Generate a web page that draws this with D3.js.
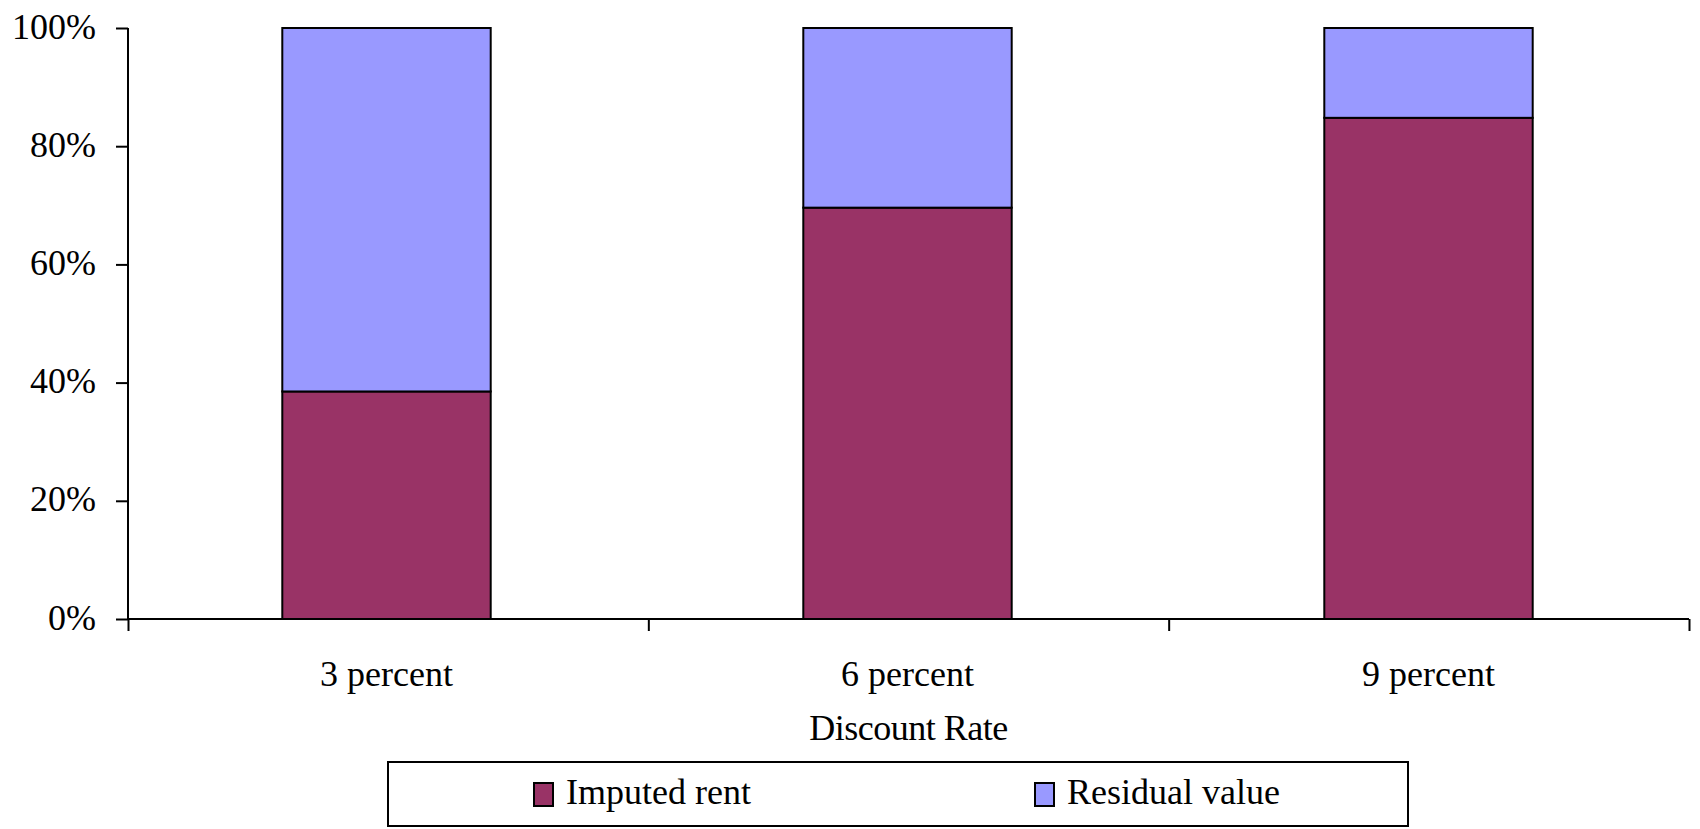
<!DOCTYPE html>
<html>
<head>
<meta charset="utf-8">
<script src="https://cdn.jsdelivr.net/npm/d3@7"></script>
<style>
  body { margin: 0; background: #fff; }
  svg { display: block; font-family: "Liberation Serif", "Times New Roman", serif; }
</style>
</head>
<body>
<svg></svg>
<script>
let categories = ["3 percent", "6 percent", "9 percent"];
let imputedRent = [38.5, 69.6, 84.8];
let residualValue = [61.5, 30.4, 15.2];
let seriesNames = ["Imputed rent", "Residual value"];
let yTicks = [0, 20, 40, 60, 80, 100];

drawChart();

function drawChart() {
    let svgWidth = 1700, svgHeight = 829;
    let left = 128, right = 1689, top = 28, bottom = 619;
    let colors = ["#993366", "#9999FF"];

    let svg = d3.select("svg")
        .attr("width", svgWidth)
        .attr("height", svgHeight);

    let x = d3.scaleBand()
        .domain(categories)
        .range([left - 2, right])
        .paddingInner(0.6)
        .paddingOuter(0.3);

    let y = d3.scaleLinear()
        .domain([0, 100])
        .range([bottom, top]);

    // stack the two series
    let rows = categories.map(function (c, i) {
        return { cat: c, "Imputed rent": imputedRent[i], "Residual value": residualValue[i] };
    });
    let stacked = d3.stack().keys(seriesNames)(rows);

    let layers = svg.append("g")
        .selectAll("g")
        .data(stacked)
        .enter().append("g")
        .attr("fill", function (d, i) { return colors[i] });

    layers.selectAll("rect")
        .data(function (d) { return d })
        .enter().append("rect")
        .attr("x", function (d) { return x(d.data.cat) })
        .attr("y", function (d) { return y(d[1]) })
        .attr("width", x.bandwidth())
        .attr("height", function (d) { return y(d[0]) - y(d[1]) })
        .attr("stroke", "#000")
        .attr("stroke-width", 2);

    // y axis
    let yAxis = svg.append("g")
        .attr("transform", "translate(" + left + ",0)")
        .call(d3.axisLeft(y).tickValues(yTicks).tickSize(12).tickPadding(20)
            .tickFormat(function (d) { return d + "%" }));
    yAxis.select(".domain").attr("stroke-width", 2).attr("d", "M0," + top + "V" + bottom);
    yAxis.selectAll(".tick line").attr("stroke-width", 2);
    yAxis.selectAll(".tick text")
        .attr("font-size", 36)
        .attr("font-family", "Liberation Serif")
        .attr("fill", "#000")
        .attr("dy", "0.28em");

    // x axis with ticks between categories
    let xb = d3.scaleLinear().domain([0, categories.length]).range([left, right]);
    let xAxis = svg.append("g")
        .attr("transform", "translate(0," + bottom + ")")
        .call(d3.axisBottom(xb).tickValues(d3.range(categories.length + 1)).tickSize(12)
            .tickFormat(""));
    xAxis.select(".domain").attr("stroke-width", 2).attr("d", "M" + left + ",0H" + right);
    xAxis.selectAll(".tick line").attr("stroke-width", 2);

    // category labels
    let xLabels = svg.append("g")
        .attr("transform", "translate(0," + bottom + ")")
        .call(d3.axisBottom(x).tickSize(0).tickPadding(0));
    xLabels.select(".domain").remove();
    xLabels.selectAll(".tick text")
        .attr("font-size", 36)
        .attr("font-family", "Liberation Serif")
        .attr("fill", "#000")
        .attr("y", 67)
        .attr("dy", 0);

    svg.append("text")
        .attr("x", (left + right) / 2)
        .attr("y", 740)
        .attr("text-anchor", "middle")
        .attr("font-size", 36)
        .attr("letter-spacing", -0.5)
        .text("Discount Rate");

    // legend
    let legend = svg.append("g");
    legend.append("rect")
        .attr("x", 388).attr("y", 762)
        .attr("width", 1020).attr("height", 64)
        .attr("fill", "#fff")
        .attr("stroke", "#000")
        .attr("stroke-width", 2);

    let legendX = [534, 1035];
    let items = legend.selectAll(".item")
        .data(seriesNames)
        .enter().append("g")
        .attr("class", "item")
        .attr("transform", function (d, i) { return "translate(" + legendX[i] + ",783)" });
    items.append("rect")
        .attr("width", 19).attr("height", 23)
        .attr("fill", function (d, i) { return colors[i] })
        .attr("stroke", "#000")
        .attr("stroke-width", 2);
    items.append("text")
        .attr("x", 32)
        .attr("y", 21)
        .attr("font-size", 36)
        .text(function (d) { return d });
}
</script>
</body>
</html>
